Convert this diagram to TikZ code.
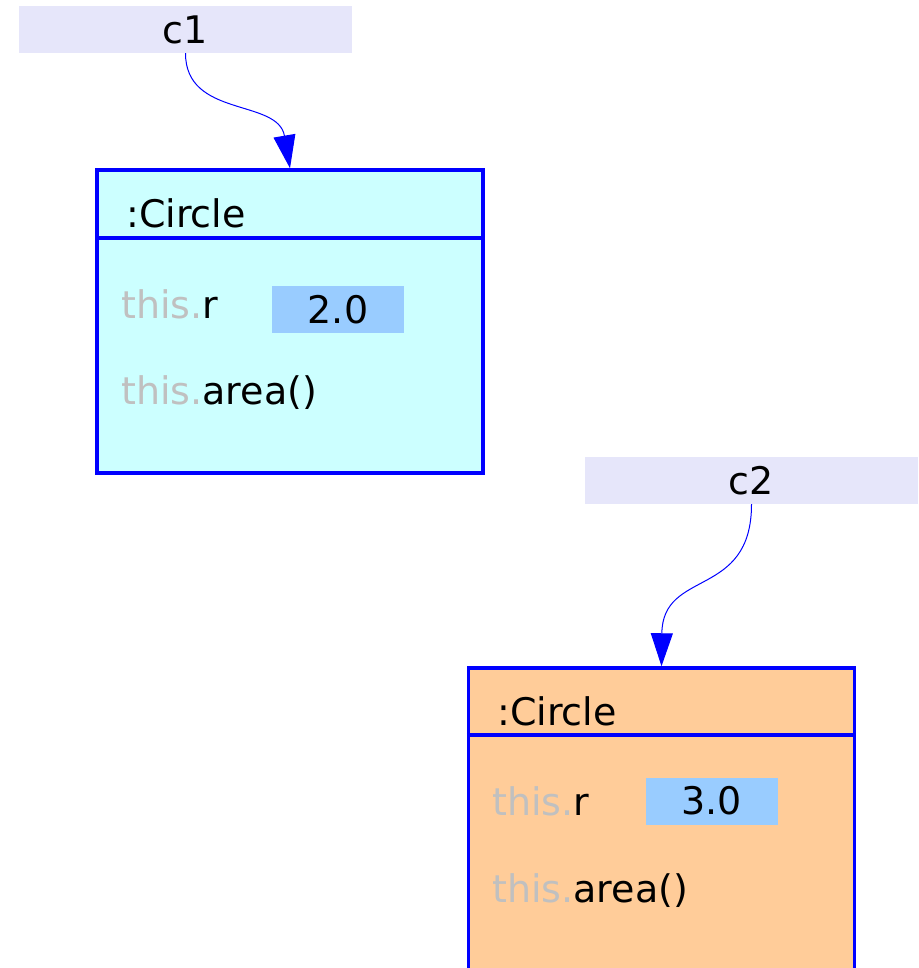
\documentclass[tikz,border=0pt]{standalone}
\usepackage{fontspec}
\setmainfont{DejaVu Sans}
\usetikzlibrary{arrows.meta}
\definecolor{namebg}{HTML}{E6E6FA}
\definecolor{objcyan}{HTML}{CCFFFF}
\definecolor{objpeach}{HTML}{FFCC99}
\definecolor{valblue}{HTML}{99CCFF}
\definecolor{thisgray}{HTML}{C0C0C0}
\definecolor{bord}{HTML}{0000FF}
\tikzset{
  varbox/.style={fill=namebg, draw=none, minimum width=333pt, minimum height=47pt, inner sep=0pt, font=\fontsize{38}{44}\selectfont},
  objbox/.style={draw=bord, line width=3.5pt, minimum width=386pt, inner sep=0pt},
  valbox/.style={fill=valblue, draw=none, minimum width=132pt, minimum height=47pt, inner sep=0pt, font=\fontsize{38}{44}\selectfont},
  lbl/.style={anchor=base west, inner sep=0pt, font=\fontsize{38}{44}\selectfont},
  ref/.style={draw=bord, line width=1pt, -{Triangle[length=33pt,width=22pt]}, fill=none},
}
\begin{document}
\begin{tikzpicture}[x=1pt,y=-1pt]
\useasboundingbox (0,0) rectangle (918,968);
\clip (0,0) rectangle (918,968);
% variable c1
\node[varbox] (c1) at (185.5,29.5) {c1};
% object 1
\node[objbox, fill=objcyan, minimum height=303pt] (o1) at (290,321.5) {};
\draw[draw=bord, line width=3.5pt] (o1.west |- 0,238) -- (o1.east |- 0,238);
\node[lbl] (o1name) at (126,228) {:Circle};
\node[lbl] (o1r) at (121,318) {{\color{thisgray}this.}r};
\node[valbox] (o1v) at (338,309.5) {2.0};
\node[lbl] (o1a) at (121,404) {{\color{thisgray}this.}area()};
% variable c2
\node[varbox] (c2) at (751.5,480.5) {c2};
% object 2
\node[objbox, fill=objpeach, minimum height=320pt] (o2) at (661.5,828) {};
\draw[draw=bord, line width=3.5pt] (o2.west |- 0,735) -- (o2.east |- 0,735);
\node[lbl] (o2name) at (497,725) {:Circle};
\node[lbl] (o2r) at (492,815) {{\color{thisgray}this.}r};
\node[valbox] (o2v) at (711.5,801) {3.0};
\node[lbl] (o2a) at (492,902) {{\color{thisgray}this.}area()};
% references
\draw[ref] (c1.south) .. controls +(0,65) and +(-12,-70) .. (o1.north);
\draw[ref] (c2.south) .. controls +(0,95) and +(1,-98) .. (o2.north);
\end{tikzpicture}
\end{document}
